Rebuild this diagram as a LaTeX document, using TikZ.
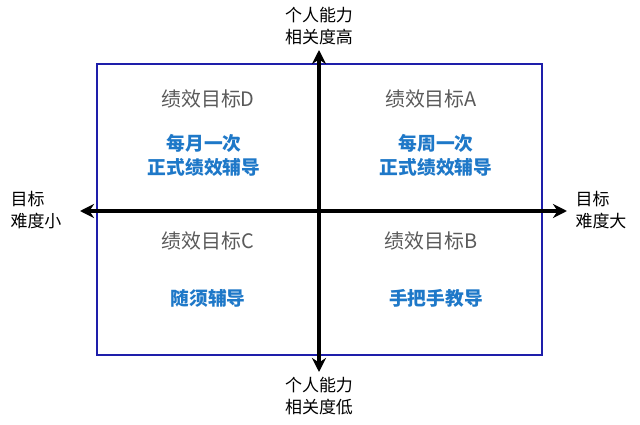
\documentclass[tikz,border=0pt]{standalone}
\usepackage{fontspec}
\setmainfont{Noto Sans CJK SC}
\usetikzlibrary{arrows.meta}
\definecolor{boxblue}{RGB}{30,30,170}
\definecolor{txtblue}{RGB}{30,120,200}
\definecolor{txtgray}{RGB}{90,90,90}
\begin{document}
\begin{tikzpicture}[x=0.03cm,y=-0.03cm,
  ttl/.style={text=txtgray,font=\fontsize{17}{20}\selectfont},
  act/.style={text=txtblue,font=\fontsize{16}{20.5}\selectfont\bfseries,align=center},
  lab/.style={font=\fontsize{14.5}{19}\selectfont,align=center},
  ax/.style={line width=3.2pt,-{Stealth[length=12pt,width=12pt]}}]
\useasboundingbox (0,0) rectangle (640,425);
\draw[boxblue,line width=1.2pt] (97,64) rectangle (542,355);
\coordinate (c) at (319,211);
\coordinate (l) at (80,211);
\coordinate (r) at (567,211);
\coordinate (t) at (319,50);
\coordinate (b) at (319,372);
\draw[ax] (c) -- (l);
\draw[ax] (c) -- (r);
\draw[ax] (c) -- (t);
\draw[ax] (c) -- (b);
\node[lab] (lt) at (319,26) {个人能力\\相关度高};
\node[lab] (lb) at (319,396) {个人能力\\相关度低};
\node[lab,align=left] (ll) at (36,210) {目标\\难度小};
\node[lab,align=left] (lr) at (601,210) {目标\\难度大};
\node[ttl] (d) at (208,99) {绩效目标D};
\node[ttl] (a) at (431,99) {绩效目标A};
\node[ttl] (cc) at (208,241) {绩效目标C};
\node[ttl] (bb) at (431,241) {绩效目标B};
\node[act] (d2) at (204,155) {每月一次\\正式绩效辅导};
\node[act] (a2) at (436,155) {每周一次\\正式绩效辅导};
\node[act] (c2) at (208,298) {随须辅导};
\node[act] (b2) at (436,298) {手把手教导};
\end{tikzpicture}
\end{document}
